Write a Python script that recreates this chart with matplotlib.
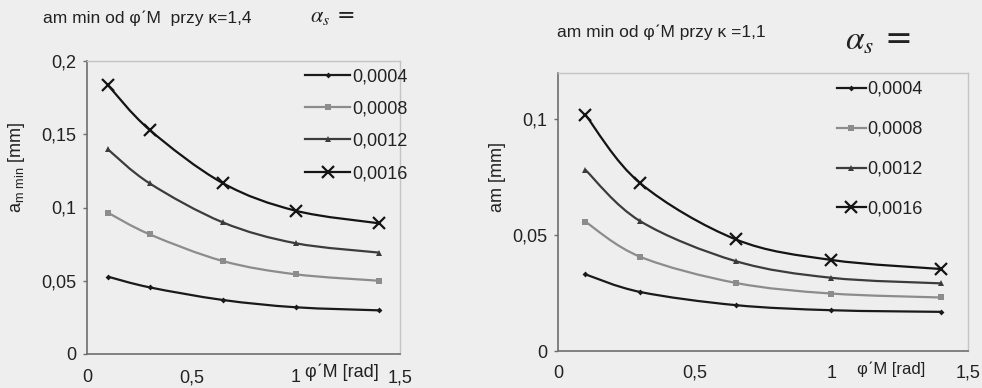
import numpy as np
import matplotlib
matplotlib.use("Agg")
import matplotlib.pyplot as plt
from matplotlib.path import Path
from matplotlib.patches import PathPatch
from matplotlib.lines import Line2D
from matplotlib.ticker import FuncFormatter

# dane
phi_M = [0.1, 0.3, 0.65, 1.0, 1.4]
alfa_s = ["0,0004", "0,0008", "0,0012", "0,0016"]

# kappa = 1,4
am_k14_0004 = [0.0528, 0.0455, 0.0369, 0.0319, 0.0298]
am_k14_0008 = [0.0965, 0.0817, 0.0635, 0.0544, 0.0500]
am_k14_0012 = [0.1397, 0.1165, 0.0899, 0.0756, 0.0692]
am_k14_0016 = [0.1836, 0.1530, 0.1167, 0.0978, 0.0892]

# kappa = 1,1
am_k11_0004 = [0.0331, 0.0255, 0.0198, 0.0176, 0.0169]
am_k11_0008 = [0.0558, 0.0407, 0.0294, 0.0248, 0.0231]
am_k11_0012 = [0.0782, 0.0561, 0.0388, 0.0316, 0.0292]
am_k11_0016 = [0.1020, 0.0725, 0.0482, 0.0393, 0.0354]

W, H = 982, 388
tlo = "#eeeeee"

style = [
    dict(color="#1a1a1a", marker="D", ms=3.0, mew=0),
    dict(color="#8c8c8c", marker="s", ms=4.5, mew=0),
    dict(color="#3c3c3c", marker="^", ms=5.0, mew=0),
    dict(color="#141414", marker="x", ms=9, mew=1.6),
]

plt.rcParams["font.family"] = ["Liberation Sans", "DejaVu Sans"]


def fx(px):
    return px / W


def fy(py):
    return 1 - py / H


def wygladzona(ax, x, y, kolor):
    # krzywa jak "wygladzona linia" w Excelu (Bezier przez punkty)
    pts = np.column_stack([x, y])
    n = len(pts)
    verts = [pts[0]]
    codes = [Path.MOVETO]
    for i in range(n - 1):
        p0 = pts[max(i - 1, 0)]
        p1 = pts[i]
        p2 = pts[i + 1]
        p3 = pts[min(i + 2, n - 1)]
        c1 = p1 + (p2 - p0) / 6
        c2 = p2 - (p3 - p1) / 6
        verts += [c1, c2, p2]
        codes += [Path.CURVE4] * 3
    ax.add_patch(PathPatch(Path(verts, codes), fc="none", ec=kolor, lw=1.6, zorder=2))


def przecinek(v, pos):
    return ("%g" % round(v, 4)).replace(".", ",")


def rysuj(ax, serie, ylim, yticks, xpad):
    for y, st in zip(serie, style):
        wygladzona(ax, phi_M, y, st["color"])
        ax.plot(phi_M, y, linestyle="none", marker=st["marker"], ms=st["ms"],
                color=st["color"], mew=st["mew"], zorder=3)
    ax.set_xlim(0, 1.5)
    ax.set_ylim(*ylim)
    ax.set_xticks([0, 0.5, 1, 1.5])
    ax.set_yticks(yticks)
    ax.xaxis.set_major_formatter(FuncFormatter(przecinek))
    ax.yaxis.set_major_formatter(FuncFormatter(przecinek))
    ax.set_facecolor("none")
    for s in ["left", "bottom"]:
        ax.spines[s].set_color("#6e6e6e")
        ax.spines[s].set_linewidth(1.2)
    for s in ["top", "right"]:
        ax.spines[s].set_color("#c4c4c4")
        ax.spines[s].set_linewidth(1.0)
    ax.tick_params(axis="both", labelsize=13, colors="#6e6e6e", labelcolor="#222222",
                   length=3, width=1)
    ax.tick_params(axis="x", pad=xpad, length=0)
    ax.tick_params(axis="y", pad=5)


fig = plt.figure(figsize=(W / 100, H / 100), dpi=100, facecolor=tlo)

# lewy wykres, kappa = 1,4
ax1 = fig.add_axes([fx(87), fy(354), fx(400) - fx(87), fy(61) - fy(354)])
rysuj(ax1, [am_k14_0004, am_k14_0008, am_k14_0012, am_k14_0016],
      (0, 0.2), [0, 0.05, 0.1, 0.15, 0.2], 11)

# prawy wykres, kappa = 1,1
ax2 = fig.add_axes([fx(558), fy(351), fx(968) - fx(558), fy(73) - fy(351)])
rysuj(ax2, [am_k11_0004, am_k11_0008, am_k11_0012, am_k11_0016],
      (0, 0.12), [0, 0.05, 0.1], 10)

uchwyty = [Line2D([], [], color=st["color"], lw=1.6, marker=st["marker"],
                  ms=st["ms"], mew=st["mew"]) for st in style]

fig.legend(uchwyty, alfa_s, loc="upper left", bbox_to_anchor=(fx(305), fy(68)),
           frameon=False, fontsize=13, handlelength=2.5, handletextpad=0.1,
           labelspacing=0.85, borderpad=0, borderaxespad=0, labelcolor="#222222")
fig.legend(uchwyty, alfa_s, loc="upper left", bbox_to_anchor=(fx(837), fy(81)),
           frameon=False, fontsize=13, handlelength=1.6, handletextpad=0.1,
           labelspacing=1.27, borderpad=0, borderaxespad=0, labelcolor="#222222")

# tytuly
fig.text(fx(43), fy(18), "am min od φ\u02caM  przy κ=1,4", fontsize=12.5,
         va="center", ha="left", color="#222222")
fig.text(fx(557), fy(32), "am min od φ\u02caM przy κ =1,1", fontsize=12.5,
         va="center", ha="left", color="#222222")
fig.text(fx(310), fy(16), r"$\alpha_s$ =", fontsize=16, math_fontfamily="stix",
         family="DejaVu Serif", va="center", ha="left", color="#222222")
fig.text(fx(845), fy(40), r"$\alpha_s$ =", fontsize=24, math_fontfamily="stix",
         family="DejaVu Serif", va="center", ha="left", color="#222222")

# opisy osi
fig.text(fx(17), fy(167), r"a$_{\mathregular{m\ min}}$ [mm]", fontsize=13,
         rotation=90, va="center", ha="center", color="#222222")
fig.text(fx(498), fy(177), "am [mm]", fontsize=13,
         rotation=90, va="center", ha="center", color="#222222")
fig.text(fx(305), fy(372), "φ\u02caM [rad]", fontsize=13,
         va="center", ha="left", color="#222222")
fig.text(fx(857), fy(369), "φ\u02caM [rad]", fontsize=12,
         va="center", ha="left", color="#222222")

fig.savefig("out.png", dpi=100, facecolor=tlo)
